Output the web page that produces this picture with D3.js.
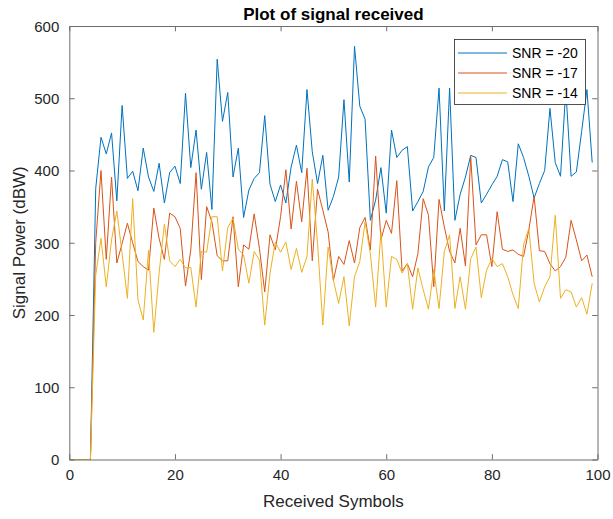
<!DOCTYPE html>
<html><head><meta charset="utf-8">
<script src="https://cdn.jsdelivr.net/npm/d3@7"></script>
<style>
html,body{margin:0;padding:0;background:#fff;}
svg{display:block;font-family:"Liberation Sans",Arial,Helvetica,sans-serif;}
</style></head>
<body><svg id="c" width="613" height="519"></svg>
<script>
const symbols = d3.range(0, 100);
const snr20 = [0,0,0,0,0,375,446,423,452,358,490,389,399,372,431,391,371,410,355,397,
406,382,507,404,456,374,425,346,554,468,508,391,431,335,373,389,397,476,381,357,
380,355,405,435,397,512,426,382,421,345,364,391,498,384,572,489,471,331,359,404,
341,456,418,428,433,344,357,371,405,418,514,344,514,331,367,391,421,418,355,367,
380,392,415,412,357,437,418,392,362,382,400,486,411,392,512,392,398,454,512,411];
const snr17 = [0,0,0,0,0,300,400,277,391,272,299,327,300,274,267,262,348,306,277,341,
336,320,240,290,397,249,350,329,282,275,275,336,239,297,291,340,292,232,311,290,
336,401,319,385,329,403,275,374,345,315,248,281,270,303,272,321,335,290,420,304,
331,313,386,261,271,253,285,361,338,239,360,322,288,272,320,268,419,297,311,311,
267,343,291,288,290,284,281,318,364,289,288,271,261,267,280,331,304,275,283,253];
const snr14 = [0,0,0,0,0,255,306,239,304,344,285,223,361,221,193,290,176,258,326,275,
267,277,265,266,211,288,287,336,336,261,321,334,291,283,244,288,276,186,258,301,
287,301,263,292,259,281,388,299,186,294,248,216,253,185,253,274,329,285,211,315,
211,281,277,258,271,208,265,235,208,263,209,288,311,209,253,208,278,294,224,262,
278,267,271,253,228,209,297,320,244,218,239,253,338,223,235,232,211,224,201,244];
const seriesNames = ["SNR = -20","SNR = -17","SNR = -14"];
const seriesColors = ["#0072BD","#D95319","#EDB120"];
const xTicks = [0,20,40,60,80,100];
const yTicks = [0,100,200,300,400,500,600];

const svg = d3.select("#c");
const L = 69.3, R = 597.5, T = 26, B = 459.5;
const x = d3.scaleLinear().domain([0,100]).range([L,R]);
const y = d3.scaleLinear().domain([0,600]).range([B,T]);
const axisCol = "#262626";
const boxCol = "#6e6e6e";

const g = svg.append("g");
const data = [snr20, snr17, snr14];
const line = d3.line().x((d,i)=>x(symbols[i])).y(d=>y(d));
data.forEach((s,k)=>{
  g.append("path").datum(s).attr("d", line)
   .attr("fill","none").attr("stroke", seriesColors[k]).attr("stroke-width",1);
});

const tl = 5.3;
const xb = svg.append("g").attr("transform",`translate(0,${B})`)
  .call(d3.axisBottom(x).tickValues(xTicks).tickSizeInner(-tl).tickSizeOuter(0).tickPadding(10));
const xt = svg.append("g").attr("transform",`translate(0,${T})`)
  .call(d3.axisTop(x).tickValues(xTicks).tickSizeInner(-tl).tickSizeOuter(0).tickFormat(""));
const yl = svg.append("g").attr("transform",`translate(${L},0)`)
  .call(d3.axisLeft(y).tickValues(yTicks).tickSizeInner(-tl).tickSizeOuter(0).tickPadding(10));
const yr = svg.append("g").attr("transform",`translate(${R},0)`)
  .call(d3.axisRight(y).tickValues(yTicks).tickSizeInner(-tl).tickSizeOuter(0).tickFormat(""));
[xb,xt,yl,yr].forEach(a=>{
  a.select(".domain").attr("stroke",boxCol).attr("stroke-width",1);
  a.selectAll(".tick line").attr("stroke",boxCol).attr("stroke-width",1);
  a.selectAll(".tick text").attr("fill",axisCol).style("font-size","15px")
   .style("font-family","'Liberation Sans',Arial,sans-serif");
});
yl.selectAll(".tick text").attr("dy","0.36em");

svg.append("text").attr("x",(L+R)/2).attr("y",20).attr("text-anchor","middle")
  .style("font-size","17px").style("font-weight","bold").attr("fill","#000")
  .text("Plot of signal received");
svg.append("text").attr("x",(L+R)/2).attr("y",507).attr("text-anchor","middle")
  .style("font-size","17px").attr("fill",axisCol).text("Received Symbols");
svg.append("text").attr("transform",`translate(25,${(T+B)/2}) rotate(-90)`)
  .attr("text-anchor","middle").style("font-size","17px").attr("fill",axisCol)
  .text("Signal Power (dBW)");

const lg = svg.append("g");
lg.append("rect").attr("x",454.5).attr("y",39.5).attr("width",131).attr("height",65)
  .attr("fill","#fff").attr("stroke","#262626").attr("stroke-width",0.8);
seriesNames.forEach((n,k)=>{
  const yy = 53 + k*20;
  lg.append("line").attr("x1",458).attr("x2",507).attr("y1",yy).attr("y2",yy)
    .attr("stroke",seriesColors[k]).attr("stroke-width",1);
  lg.append("text").attr("x",512).attr("y",yy).attr("dy","0.36em")
    .style("font-size","14px").attr("fill","#000").text(n);
});
</script></body></html>
